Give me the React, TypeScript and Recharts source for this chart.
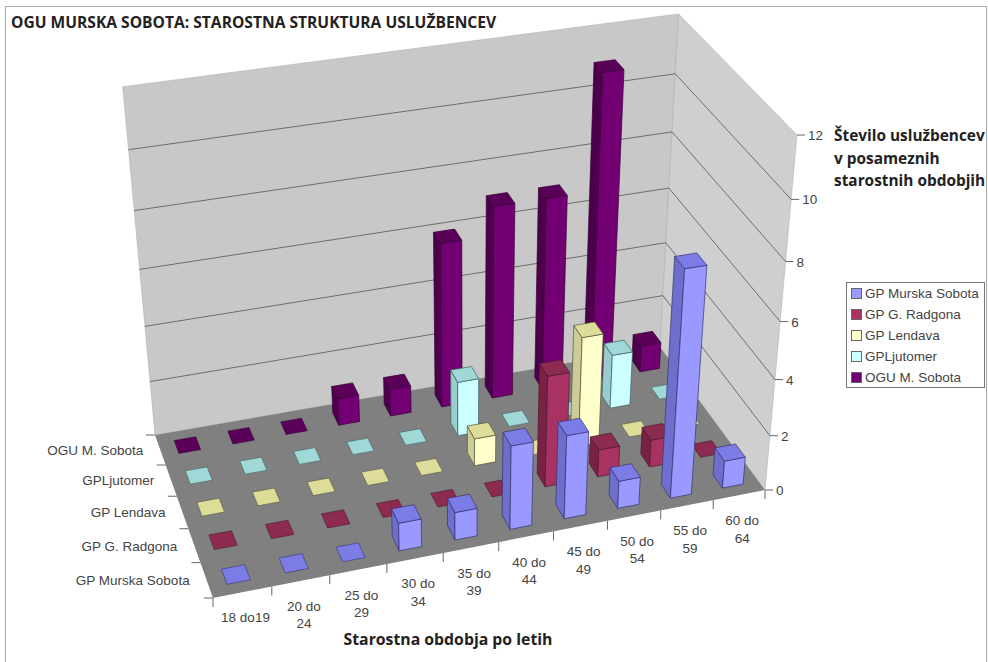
import React from "react";
import { ScatterChart, Scatter, XAxis, YAxis, Legend } from "recharts";

const W = 988, H = 662;
const AX = 1; // thickness kept by each hidden-line axis
const ageLabels = ["18 do19", "20 do 24", "25 do 29", "30 do 34", "35 do 39", "40 do 44", "45 do 49", "50 do 54", "55 do 59", "60 do 64"];
const seriesNames = ["GP Murska Sobota", "GP G. Radgona", "GP Lendava", "GPLjutomer", "OGU M. Sobota"];
const murska = [0, 0, 0, 1, 1, 3, 3, 1, 8, 1];
const radgona = [0, 0, 0, 0, 0, 0, 4, 1, 1, 0];
const lendava = [0, 0, 0, 0, 0, 1, 0, 4, 0, 0];
const ljutomer = [0, 0, 0, 0, 0, 2, 0, 0, 2, 0];
const ogu = [0, 0, 0, 1, 1, 6, 7, 7, 11, 1];
const seriesValues = [murska, radgona, lendava, ljutomer, ogu];
const faceColors = [
  { front: "#9999FF", top: "#7C7CE6", side: "#6E6ECC", line: "#34346e" },
  { front: "#A83262", top: "#8C2A50", side: "#7A2246", line: "#4a1a30" },
  { front: "#FFFFCC", top: "#DDDD99", side: "#CCCC99", line: "#55553a" },
  { front: "#CCFFFF", top: "#A0D8D8", side: "#99CCCC", line: "#3f5f5f" },
  { front: "#720072", top: "#5A0058", side: "#4C004C", line: "#3a003a" },
];
const valueTicks = [0, 2, 4, 6, 8, 10, 12];
const catTicks = [0.5, 1.5, 2.5, 3.5, 4.5, 5.5, 6.5, 7.5, 8.5, 9.5];
const rowTicks = [0.5, 1.5, 2.5, 3.5, 4.5];

// perspective frame of the 3D box
const A = [213, 598], C = [765, 490], D = [660, 347], B = [155, 435], VP = [467, 3797];
const dx1 = C[0] - D[0], dx2 = B[0] - D[0], sx = A[0] - C[0] + D[0] - B[0];
const dy1 = C[1] - D[1], dy2 = B[1] - D[1], sy = A[1] - C[1] + D[1] - B[1];
const det = dx1 * dy2 - dx2 * dy1;
const g = (sx * dy2 - dx2 * sy) / det, h = (dx1 * sy - sx * dy1) / det;
const a = C[0] - A[0] + g * C[0], b = B[0] - A[0] + h * B[0];
const d = C[1] - A[1] + g * C[1], e = B[1] - A[1] + h * B[1];
const s = -0.008078 * (g + 1);

function project(cat: number, row: number, val: number): [number, number] {
  const u = cat / 10, v = row / 5;
  const X = a * u + b * v + A[0] + val * s * VP[0];
  const Y = d * u + e * v + A[1] + val * s * VP[1];
  const Z = g * u + h * v + 1 + val * s;
  return [X / Z, Y / Z];
}
const poly = (pts: [number, number][]) => pts.map((p) => p[0].toFixed(1) + "," + p[1].toFixed(1)).join(" ");
// plot box of the chart: two left axes and one bottom axis, AX px each
const PLOT_LEFT = 2 * AX, PLOT_BOTTOM = H - AX;
const catFromPx = (px: number) => ((px - PLOT_LEFT) / (W - PLOT_LEFT)) * 10;
const rowFromPx = (py: number) => ((PLOT_BOTTOM - py) / PLOT_BOTTOM) * 5;
const valFromPx = (py: number) => ((PLOT_BOTTOM - py) / PLOT_BOTTOM) * 12;

const HALF_W = 0.2, HALF_D = 0.215;

const Bar3D = (props: any) => {
  const { cx, cy, payload } = props;
  const cat = catFromPx(cx), row = rowFromPx(cy), v = payload.value;
  const c = faceColors[payload.series];
  const x0 = cat - HALF_W, x1 = cat + HALF_W, y0 = row - HALF_D, y1 = row + HALF_D;
  const top = poly([project(x0, y0, v), project(x1, y0, v), project(x1, y1, v), project(x0, y1, v)]);
  if (v === 0) return <polygon points={top} fill={c.top} stroke={c.line} strokeWidth={0.6} />;
  return (
    <g stroke={c.line} strokeWidth={0.7} strokeLinejoin="round">
      <polygon points={poly([project(x0, y0, 0), project(x0, y1, 0), project(x0, y1, v), project(x0, y0, v)])} fill={c.side} />
      <polygon points={poly([project(x0, y0, 0), project(x1, y0, 0), project(x1, y0, v), project(x0, y0, v)])} fill={c.front} />
      <polygon points={top} fill={c.top} />
    </g>
  );
};

const Frame = () => {
  const [f0, f1, f2, f3] = [project(0, 5, 12), project(10, 5, 12), project(10, 0, 12), project(10, 0, 0)];
  return (
    <g>
      <polygon points={poly([project(0, 5, 0), project(10, 5, 0), f1, f0])} fill="#C8C8C8" stroke="#aaa" strokeWidth={0.5} />
      <polygon points={poly([project(10, 5, 0), f3, f2, f1])} fill="#CFCFCF" stroke="#aaa" strokeWidth={0.5} />
      <polygon points={poly([project(0, 0, 0), project(10, 0, 0), project(10, 5, 0), project(0, 5, 0)])} fill="#808080" />
      {valueTicks.slice(1, -1).map((t) => (
        <polyline key={t} points={poly([project(0, 5, t), project(10, 5, t), project(10, 0, t)])} fill="none" stroke="#555" strokeWidth={0.8} />
      ))}
      <text x={11} y={27.5} fontFamily="Open Sans" fontWeight={700} fontSize={15.6} fill="#222">OGU MURSKA SOBOTA: STAROSTNA STRUKTURA USLUŽBENCEV</text>
      {["Število uslužbencev", "v posameznih", "starostnih obdobjih"].map((t, i) => (
        <text key={t} x={834} y={141 + i * 22.5} fontFamily="Open Sans" fontWeight={700} fontSize={15.4} fill="#222">{t}</text>
      ))}
      <text x={448} y={645} textAnchor="middle" fontFamily="Open Sans" fontWeight={700} fontSize={15.8} fill="#222">Starostna obdobja po letih</text>
    </g>
  );
};

const labelStyle = { fontFamily: "Liberation Sans", fontSize: 13.5, fill: "#444" };

const CatTick = (props: any) => {
  const { x, index } = props;
  const cat = catFromPx(x);
  const [px, py] = project(cat, 0, 0);
  const [mx0, my0] = project(cat - 0.5, 0, 0);
  const [mx1, my1] = project(cat + 0.5, 0, 0);
  const parts = ageLabels[index].split(" ");
  const lines = parts.length === 3 ? [parts[0] + " " + parts[1], parts[2]] : [ageLabels[index]];
  return (
    <g>
      <line x1={mx0} y1={my0} x2={mx0} y2={my0 + 9} stroke="#666" />
      {index === 9 && <line x1={mx1} y1={my1} x2={mx1} y2={my1 + 9} stroke="#666" />}
      {lines.map((t, i) => (
        <text key={t} x={px + 3} y={py + 30 + i * 17.5} textAnchor="middle" {...labelStyle}>{t}</text>
      ))}
    </g>
  );
};

const RowTick = (props: any) => {
  const { y, index } = props;
  const row = rowFromPx(y);
  const [px, py] = project(0, row, 0);
  const [mx, my] = project(0, row - 0.5, 0);
  const [nx, ny] = project(0, row + 0.5, 0);
  return (
    <g>
      <line x1={mx} y1={my} x2={mx - 9} y2={my} stroke="#666" />
      {index === 4 && <line x1={nx} y1={ny} x2={nx - 9} y2={ny} stroke="#666" />}
      <text x={px - 17} y={py + 5} textAnchor="end" {...labelStyle}>{seriesNames[index]}</text>
    </g>
  );
};

const ValueTick = (props: any) => {
  const { y, payload } = props;
  const [px, py] = project(10, 0, valFromPx(y));
  return (
    <g>
      <line x1={px} y1={py} x2={px + 8} y2={py} stroke="#666" />
      <text x={px + 11} y={py + 5} {...labelStyle}>{payload.value}</text>
    </g>
  );
};

const LegendBox = (props: any) => {
  const items = [...(props.payload || [])]
    .filter((p: any) => seriesNames.includes(p.value))
    .sort((p: any, q: any) => seriesNames.indexOf(p.value) - seriesNames.indexOf(q.value));
  return (
    <div style={{ width: 139, height: 106, border: "1px solid #777", background: "#fff", boxSizing: "border-box", padding: "0 0 0 4px", fontFamily: "Liberation Sans", fontSize: 13.5, color: "#444" }}>
      {items.map((p: any) => (
        <div key={p.value} style={{ height: 21, display: "flex", alignItems: "center", whiteSpace: "nowrap" }}>
          <span style={{ width: 9, height: 9, background: p.color, border: "1px solid #666", marginRight: 3, display: "inline-block", flex: "none" }} />
          {p.value}
        </div>
      ))}
    </div>
  );
};

const rowsData = seriesValues.map((vals, r) =>
  vals.map((value, i) => ({ cat: i + 0.5, row: r + 0.5, value, series: r })).reverse()
);
const frameData = [{ cat: 5, tick: 6 }];

export default function App() {
  return (
    <div style={{ position: "absolute", left: 0, top: 0, width: W, height: H, background: "#fff", overflow: "hidden" }}>
      <div style={{ position: "absolute", left: 5, top: 5.5, width: 980, height: 680, border: "1.5px solid #a8a8a8", boxSizing: "content-box" }} />
      <ScatterChart width={W} height={H} margin={{ top: 0, right: 0, bottom: 0, left: 0 }} style={{ overflow: "visible" }}>
        <XAxis type="number" dataKey="cat" domain={[0, 10]} height={AX} axisLine={false} tickLine={false} ticks={catTicks} interval={0} tick={CatTick} />
        <YAxis type="number" dataKey="row" domain={[0, 5]} width={AX} axisLine={false} tickLine={false} ticks={rowTicks} interval={0} tick={RowTick} />
        <YAxis yAxisId="values" type="number" dataKey="tick" domain={[0, 12]} width={AX} axisLine={false} tickLine={false} ticks={valueTicks} interval={0} tick={ValueTick} />
        <Scatter yAxisId="values" data={frameData} shape={() => <Frame />} legendType="none" isAnimationActive={false} />
        {[4, 3, 2, 1, 0].map((r) => (
          <Scatter key={r} name={seriesNames[r]} data={rowsData[r]} fill={faceColors[r].front} shape={Bar3D} isAnimationActive={false} />
        ))}
        <Legend layout="vertical" align="center" verticalAlign="middle" content={LegendBox} wrapperStyle={{ left: 846, top: 282, width: 139 }} />
      </ScatterChart>
    </div>
  );
}
